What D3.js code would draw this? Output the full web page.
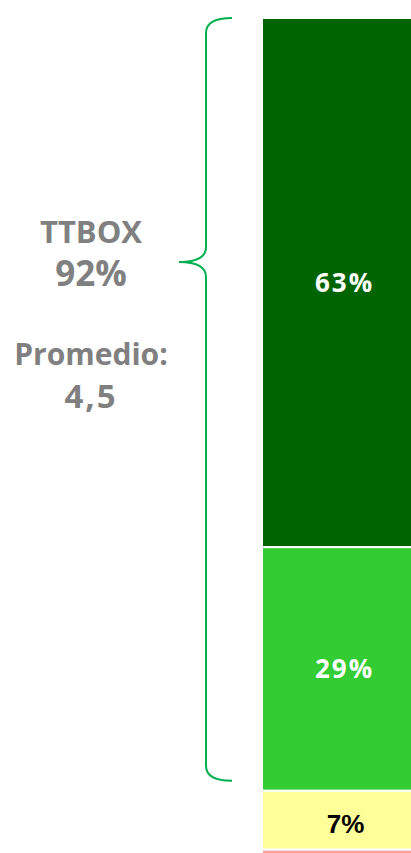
<!DOCTYPE html>
<html><head><meta charset="utf-8">
<script src="https://cdn.jsdelivr.net/npm/d3@7"></script>
<style>html,body{margin:0;padding:0;background:#fff;overflow:hidden}</style>
</head><body>
<svg id="c" width="411" height="853"></svg>
<script>
const categories = ["Total"];
const segments = ["5", "4", "3", "2"];
const values = [63, 29, 7, 1];
const colors = ["#006400", "#33cc33", "#ffff99", "#f2a0a0"];
const labelColors = ["#ffffff", "#ffffff", "#000000", "#000000"];
const summaryLabels = ["TTBOX", "92%", "Promedio:", "4,5"];

(function(){
const svg = d3.select("#c");
const x = d3.scaleBand().domain(categories).range([262, 425]).padding(0);
const y = d3.scaleLinear().domain([0, 100]).range([18, 858]);

let acc = 0;
const data = values.map((v, i) => { const d = {key: segments[i], v, y0: acc, y1: acc + v, i}; acc += v; return d; });

svg.selectAll("rect.seg").data(data).join("rect")
  .attr("class", "seg")
  .attr("x", x(categories[0]))
  .attr("width", x.bandwidth())
  .attr("y", d => y(d.y0))
  .attr("height", d => y(d.y1) - y(d.y0))
  .attr("fill", d => colors[d.i])
  .attr("stroke", "#fff").attr("stroke-width", 2);

const fmt = d => d3.format("d")(d) + "%";
svg.selectAll("text.lab").data(data.slice(0, 3)).join("text")
  .attr("class", "lab")
  .attr("x", d => d.i === 2 ? 345.5 : 344.5)
  .attr("y", d => (y(d.y0) + y(d.y1)) / 2)
  .attr("dy", d => d.i === 2 ? "0.5em" : "0.36em")
  .attr("text-anchor", "middle")
  .attr("fill", d => labelColors[d.i])
  .attr("font-family", d => d.i === 2 ? "Liberation Sans, Arial, sans-serif" : "Open Sans, sans-serif")
  .attr("font-weight", "bold")
  .attr("font-size", 26)
  .attr("letter-spacing", d => d.i === 2 ? 0 : 2)
  .text(d => fmt(d.v));

// brace over top two segments (TTBOX)
const yTop = y(0), yBot = y(values[0] + values[1]) - 10, tipY = 262;
const bx = 206, ex = 232, tx = 179, r = 15;
const p = d3.path();
p.moveTo(ex, yTop);
p.quadraticCurveTo(bx, yTop, bx, yTop + r);
p.lineTo(bx, tipY - r);
p.quadraticCurveTo(bx, tipY, tx, tipY);
p.quadraticCurveTo(bx, tipY, bx, tipY + r);
p.lineTo(bx, yBot - r);
p.quadraticCurveTo(bx, yBot, ex, yBot);
svg.append("path").attr("d", p.toString()).attr("fill", "none")
  .attr("stroke", "#00b050").attr("stroke-width", 2);

const sizes = [31, 35, 30, 33];
const spacing = [0, 0, 0, 2];
const baselines = [243, 286, 365, 408];
svg.selectAll("text.sum").data(summaryLabels).join("text")
  .attr("class", "sum")
  .attr("x", 91)
  .attr("y", (d, i) => baselines[i])
  .attr("text-anchor", "middle")
  .attr("fill", "#808080")
  .attr("font-family", "Open Sans, sans-serif")
  .attr("font-weight", "bold")
  .attr("font-size", (d, i) => sizes[i])
  .attr("letter-spacing", (d, i) => spacing[i])
  .text(d => d);
})();
</script>
</body></html>
